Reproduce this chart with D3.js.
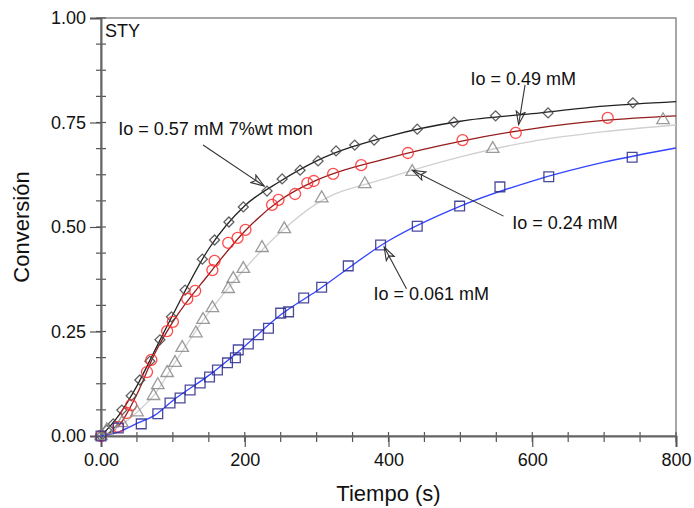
<!DOCTYPE html>
<html>
<head>
<meta charset="utf-8">
<script src="https://cdn.jsdelivr.net/npm/d3@7"></script>
<style>
  body { margin: 0; background: #fff; }
  text { font-family: "Liberation Sans", Arial, sans-serif; fill: #111; }
</style>
</head>
<body>
<svg id="chart"></svg>
<script>
  // measured points (tiempo s, conversión)
  const t057 = [0, 8, 17, 29, 42, 54, 68, 82, 98, 117, 141, 158, 178, 198, 231, 252, 277, 302, 327, 353, 380, 440, 491, 549, 622, 740];
  const c057 = [0, 0.014, 0.029, 0.062, 0.096, 0.134, 0.179, 0.23, 0.285, 0.349, 0.423, 0.469, 0.512, 0.548, 0.586, 0.615, 0.636, 0.658, 0.682, 0.696, 0.708, 0.734, 0.751, 0.766, 0.773, 0.797];

  const t049 = [0, 24, 36, 42, 64, 70, 92, 100, 120, 131, 155, 158, 177, 190, 201, 238, 247, 270, 287, 296, 323, 362, 427, 503, 577, 705];
  const c049 = [0, 0.022, 0.055, 0.074, 0.153, 0.182, 0.251, 0.273, 0.328, 0.347, 0.397, 0.419, 0.462, 0.474, 0.493, 0.553, 0.565, 0.579, 0.605, 0.61, 0.627, 0.648, 0.677, 0.708, 0.725, 0.761];

  const t024 = [0, 8, 29, 50, 73, 79, 92, 103, 113, 132, 142, 155, 177, 184, 198, 224, 255, 307, 367, 433, 545, 782];
  const c024 = [0, 0.014, 0.031, 0.057, 0.096, 0.122, 0.151, 0.175, 0.211, 0.246, 0.278, 0.306, 0.352, 0.376, 0.4, 0.45, 0.495, 0.569, 0.603, 0.632, 0.687, 0.756];

  const t0061 = [0, 24, 56, 79, 96, 110, 124, 138, 151, 162, 176, 187, 191, 205, 219, 233, 250, 261, 282, 307, 344, 389, 440, 499, 555, 623, 739];
  const c0061 = [0, 0.019, 0.029, 0.053, 0.079, 0.091, 0.11, 0.127, 0.141, 0.158, 0.175, 0.187, 0.206, 0.22, 0.242, 0.258, 0.294, 0.297, 0.33, 0.356, 0.407, 0.457, 0.502, 0.55, 0.596, 0.62, 0.667];

  // fitted curves
  const fitT = [0, 25, 50, 75, 100, 150, 200, 250, 300, 400, 500, 600, 700, 800];
  const fit057 = [0, 0.05, 0.12, 0.205, 0.29, 0.448, 0.551, 0.61, 0.658, 0.717, 0.753, 0.771, 0.789, 0.80];
  const fit049 = [0, 0.025, 0.1, 0.198, 0.273, 0.387, 0.49, 0.565, 0.612, 0.665, 0.705, 0.735, 0.755, 0.766];
  const fit024 = [0, 0.022, 0.057, 0.1, 0.168, 0.295, 0.4, 0.488, 0.556, 0.618, 0.668, 0.705, 0.728, 0.744];
  const fit0061 = [0, 0.01, 0.03, 0.05, 0.085, 0.145, 0.215, 0.29, 0.347, 0.467, 0.55, 0.61, 0.655, 0.689];

  const xTicks = [0, 200, 400, 600, 800];
  const xTickLabels = ["0.00", "200", "400", "600", "800"];
  const yTicks = [0, 0.25, 0.5, 0.75, 1];
  const yTickLabels = ["0.00", "0.25", "0.50", "0.75", "1.00"];

  const labels = ["Io = 0.57 mM 7%wt mon", "Io = 0.49 mM", "Io = 0.24 mM", "Io = 0.061 mM"];

  const width = 694, height = 508;
  const margin = { left: 101, right: 18, top: 18, bottom: 72 };

  const svg = d3.select("#chart")
    .attr("width", width)
    .attr("height", height);

  const x = d3.scaleLinear().domain([0, 800]).range([margin.left, width - margin.right]);
  const y = d3.scaleLinear().domain([0, 1]).range([height - margin.bottom, margin.top]);

  // frame
  svg.append("rect")
    .attr("x", x(0)).attr("y", y(1))
    .attr("width", x(800) - x(0)).attr("height", y(0) - y(1))
    .attr("fill", "none").attr("stroke", "#8a8a8a").attr("stroke-width", 1.5);

  // minor ticks
  const xMinor = d3.range(0, 801, 50);
  svg.append("g").selectAll("line").data(xMinor).join("line")
    .attr("x1", d => x(d)).attr("x2", d => x(d))
    .attr("y1", y(0) - 4).attr("y2", y(0) + 6)
    .attr("stroke", "#555").attr("stroke-width", 1.2);
  const yMinor = d3.range(0, 1.001, 0.0625);
  svg.append("g").selectAll("line").data(yMinor).join("line")
    .attr("x1", x(0) - 5).attr("x2", x(0) + 5)
    .attr("y1", d => y(d)).attr("y2", d => y(d))
    .attr("stroke", "#555").attr("stroke-width", 1.2);

  // axes
  const xAxis = svg.append("g")
    .attr("transform", `translate(0,${y(0)})`)
    .call(d3.axisBottom(x).tickValues(xTicks).tickSize(11).tickPadding(6)
      .tickFormat((d, i) => xTickLabels[i]));
  const yAxis = svg.append("g")
    .attr("transform", `translate(${x(0)},0)`)
    .call(d3.axisLeft(y).tickValues(yTicks).tickSize(11).tickPadding(4)
      .tickFormat((d, i) => yTickLabels[i]));
  [xAxis, yAxis].forEach(g => {
    g.select(".domain").attr("stroke", "#666").attr("stroke-width", 2);
    g.selectAll(".tick line").attr("stroke", "#555").attr("stroke-width", 1.2);
    g.selectAll(".tick text").style("font-size", "18px").attr("fill", "#111")
      .style("font-family", "'Liberation Sans', Arial, sans-serif");
  });

  // titles
  svg.append("text")
    .attr("x", (x(0) + x(800)) / 2).attr("y", 501)
    .attr("text-anchor", "middle").style("font-size", "22px")
    .text("Tiempo (s)");
  svg.append("text")
    .attr("transform", `translate(29,${(y(0) + y(1)) / 2}) rotate(-90)`)
    .attr("text-anchor", "middle").style("font-size", "22px")
    .text("Conversión");
  svg.append("text")
    .attr("x", x(0) + 4).attr("y", y(1) + 19)
    .style("font-size", "18px").text("STY");

  const series = [
    { t: t057, c: c057, fit: fit057, line: "#222", mark: "#444", shape: d3.symbolSquare, size: 50, rot: 45 },
    { t: t049, c: c049, fit: fit049, line: "#951c1c", mark: "#ff2a2a", shape: d3.symbolCircle, size: 95, rot: 0 },
    { t: t024, c: c024, fit: fit024, line: "#d0d0d0", mark: "#8a8a8a", shape: d3.symbolTriangle, size: 68, rot: 0 },
    { t: t0061, c: c0061, fit: fit0061, line: "#3344ff", mark: "#2a2a8c", shape: d3.symbolSquare, size: 95, rot: 0 }
  ];

  const line = d3.line()
    .x(d => x(d[0])).y(d => y(d[1]))
    .curve(d3.curveMonotoneX);

  // fitted lines under markers
  series.forEach(s => {
    svg.append("path")
      .datum(fitT.map((t, i) => [t, s.fit[i]]))
      .attr("fill", "none").attr("stroke", s.line).attr("stroke-width", 1.3)
      .attr("d", line);
  });

  series.forEach(s => {
    svg.append("g").selectAll("path")
      .data(s.t.map((t, i) => [t, s.c[i]]))
      .join("path")
      .attr("transform", d => `translate(${x(d[0])},${y(d[1])}) rotate(${s.rot})`)
      .attr("d", d3.symbol().type(s.shape).size(s.size))
      .attr("fill", "none").attr("stroke", s.mark).attr("stroke-width", 1.3)
      .attr("stroke-opacity", 0.85);
  });

  // annotations
  svg.append("defs").append("marker")
    .attr("id", "head").attr("viewBox", "-14 -6 16 12")
    .attr("refX", 0).attr("refY", 0)
    .attr("markerWidth", 16).attr("markerHeight", 12)
    .attr("markerUnits", "userSpaceOnUse")
    .attr("orient", "auto")
    .append("path").attr("d", "M0,0 L-13,-4.5 L-10,0 L-13,4.5 Z")
    .attr("fill", "none").attr("stroke", "#333").attr("stroke-width", 1.1);

  const notes = [
    { text: labels[0], tx: 24, ty: 0.72, from: [142, 0.696], to: [227, 0.598] },
    { text: labels[1], tx: 514, ty: 0.839, from: [590, 0.84], to: [581, 0.745] },
    { text: labels[2], tx: 572, ty: 0.495, from: [560, 0.526], to: [433, 0.636] },
    { text: labels[3], tx: 379, ty: 0.325, from: [425, 0.352], to: [394, 0.452] }
  ];
  notes.forEach(n => {
    svg.append("line")
      .attr("x1", x(n.from[0])).attr("y1", y(n.from[1]))
      .attr("x2", x(n.to[0])).attr("y2", y(n.to[1]))
      .attr("stroke", "#333").attr("stroke-width", 1.1)
      .attr("marker-end", "url(#head)");
    svg.append("text")
      .attr("x", x(n.tx)).attr("y", y(n.ty))
      .style("font-size", "18px")
      .text(n.text);
  });
</script>
</body>
</html>
